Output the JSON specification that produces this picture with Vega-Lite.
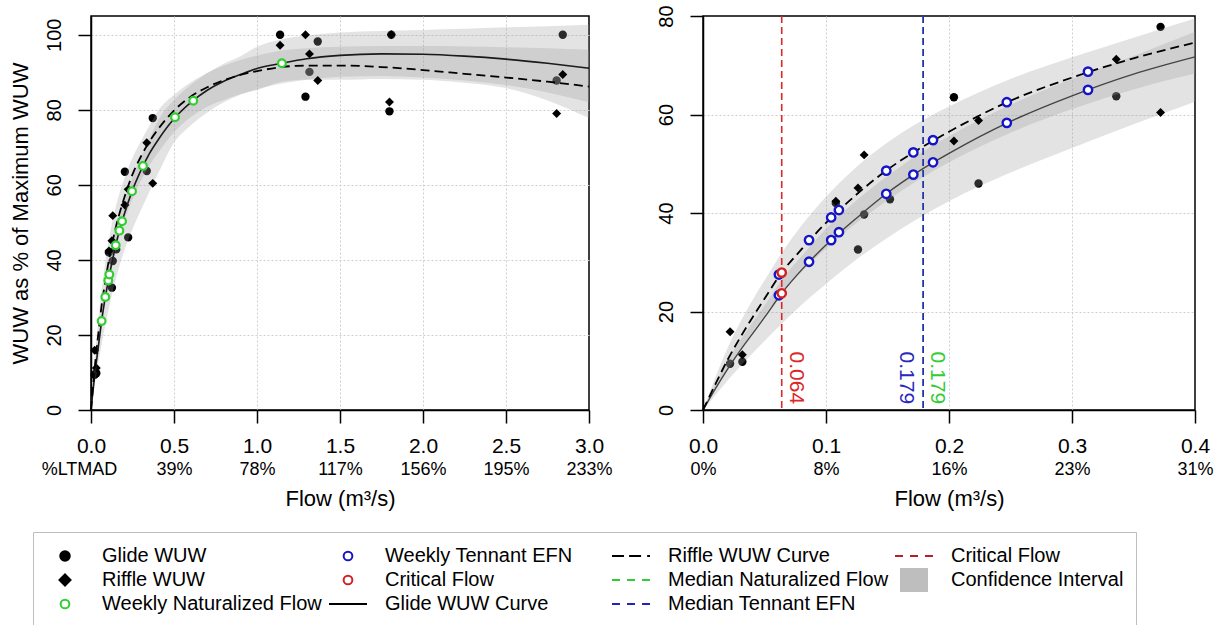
{
  "$schema": "https://vega.github.io/schema/vega-lite/v6.json",
  "background": "white",
  "padding": {"left": 8, "top": 4, "right": 5, "bottom": 0},
  "bounds": "flush",
  "spacing": 114,
  "config": {
    "font": "Liberation Sans",
    "view": {"stroke": "black", "strokeWidth": 1.5},
    "axis": {
      "labelFont": "Liberation Sans", "titleFont": "Liberation Sans",
      "labelColor": "black", "titleColor": "black", "titleFontWeight": "normal",
      "domainColor": "black", "domainWidth": 1.5, "tickColor": "black", "tickWidth": 1.5, "tickSize": 13,
      "gridColor": "#CFCFCF", "gridDash": [2, 2], "gridWidth": 1,
      "labelFlush": false, "labelOverlap": false, "titleFontSize": 22
    },
    "legend": {
      "title": null,
      "orient": "none",
      "columns": 4,
      "gridAlign": "all",
      "symbolSize": 1444,
      "symbolStrokeWidth": 2,
      "symbolFillColor": "transparent",
      "symbolStrokeColor": "black",
      "clipHeight": 24,
      "labelFont": "Liberation Sans",
      "labelFontSize": 20,
      "labelColor": "black",
      "labelOffset": 17,
      "labelLimit": 500,
      "columnPadding": 5,
      "rowPadding": 0,
      "padding": 12,
      "strokeColor": "#BEBEBE"
    }
  },
  "datasets": {
    "curves": [
      {"flow": 0, "glide": 0, "riffle": 0, "glo": 0, "ghi": 0, "rlo": 0, "rhi": 0},
      {"flow": 0.01, "glide": 4.3, "riffle": 5.2, "glo": 3.0, "ghi": 5.3, "rlo": 4.2, "rhi": 6.6},
      {"flow": 0.02, "glide": 8.3, "riffle": 10.2, "glo": 6.0, "ghi": 10.0, "rlo": 8.4, "rhi": 12.6},
      {"flow": 0.03, "glide": 12.0, "riffle": 14.6, "glo": 8.8, "ghi": 14.0, "rlo": 12.2, "rhi": 17.7},
      {"flow": 0.04, "glide": 15.4, "riffle": 18.7, "glo": 11.4, "ghi": 17.7, "rlo": 15.8, "rhi": 22.2},
      {"flow": 0.05, "glide": 18.8, "riffle": 22.6, "glo": 14.0, "ghi": 21.2, "rlo": 19.2, "rhi": 26.3},
      {"flow": 0.064, "glide": 23.7, "riffle": 27.9, "glo": 17.5, "ghi": 26.4, "rlo": 23.8, "rhi": 31.9},
      {"flow": 0.08, "glide": 28.4, "riffle": 32.6, "glo": 21.3, "ghi": 31.2, "rlo": 28.0, "rhi": 37.4},
      {"flow": 0.1, "glide": 33.5, "riffle": 38.0, "glo": 25.6, "ghi": 36.8, "rlo": 32.8, "rhi": 43.3},
      {"flow": 0.125, "glide": 39.0, "riffle": 43.8, "glo": 30.6, "ghi": 42.6, "rlo": 38.0, "rhi": 49.4},
      {"flow": 0.15, "glide": 44.1, "riffle": 48.8, "glo": 35.0, "ghi": 47.5, "rlo": 42.6, "rhi": 54.3},
      {"flow": 0.175, "glide": 48.4, "riffle": 52.9, "glo": 38.9, "ghi": 51.9, "rlo": 46.7, "rhi": 58.3},
      {"flow": 0.2, "glide": 52.1, "riffle": 56.5, "glo": 42.4, "ghi": 55.6, "rlo": 50.3, "rhi": 61.6},
      {"flow": 0.25, "glide": 58.6, "riffle": 62.8, "glo": 48.2, "ghi": 62.0, "rlo": 56.3, "rhi": 67.2},
      {"flow": 0.3, "glide": 63.8, "riffle": 67.5, "glo": 53.2, "ghi": 67.2, "rlo": 61.1, "rhi": 71.6},
      {"flow": 0.35, "glide": 68.2, "riffle": 71.4, "glo": 58.0, "ghi": 71.9, "rlo": 65.1, "rhi": 75.6},
      {"flow": 0.4, "glide": 71.7, "riffle": 74.6, "glo": 62.6, "ghi": 76.8, "rlo": 68.3, "rhi": 79.5},
      {"flow": 0.5, "glide": 77.6, "riffle": 79.8, "glo": 71.2, "ghi": 82.6, "rlo": 74.0, "rhi": 84.0},
      {"flow": 0.6, "glide": 81.9, "riffle": 83.5, "glo": 75.8, "ghi": 86.6, "rlo": 78.0, "rhi": 87.3},
      {"flow": 0.7, "glide": 85.2, "riffle": 86.0, "glo": 79.3, "ghi": 89.8, "rlo": 80.8, "rhi": 89.8},
      {"flow": 0.8, "glide": 87.6, "riffle": 87.9, "glo": 82.0, "ghi": 92.3, "rlo": 82.6, "rhi": 91.8},
      {"flow": 0.9, "glide": 89.4, "riffle": 89.3, "glo": 84.0, "ghi": 94.3, "rlo": 84.2, "rhi": 93.3},
      {"flow": 1.0, "glide": 91.0, "riffle": 90.3, "glo": 85.5, "ghi": 96.8, "rlo": 85.3, "rhi": 94.5},
      {"flow": 1.15, "glide": 92.4, "riffle": 91.4, "glo": 87.0, "ghi": 98.8, "rlo": 87.5, "rhi": 95.8},
      {"flow": 1.3, "glide": 93.6, "riffle": 91.8, "glo": 88.0, "ghi": 99.8, "rlo": 88.0, "rhi": 96.4},
      {"flow": 1.5, "glide": 94.5, "riffle": 91.8, "glo": 88.8, "ghi": 100.6, "rlo": 88.0, "rhi": 96.8},
      {"flow": 1.75, "glide": 94.9, "riffle": 91.4, "glo": 89.0, "ghi": 101.0, "rlo": 88.2, "rhi": 97.0},
      {"flow": 2.0, "glide": 94.8, "riffle": 90.6, "glo": 88.6, "ghi": 101.3, "rlo": 88.0, "rhi": 97.0},
      {"flow": 2.25, "glide": 94.3, "riffle": 89.6, "glo": 87.8, "ghi": 101.6, "rlo": 87.2, "rhi": 96.9},
      {"flow": 2.5, "glide": 93.5, "riffle": 88.6, "glo": 86.6, "ghi": 102.0, "rlo": 85.8, "rhi": 96.7},
      {"flow": 2.75, "glide": 92.4, "riffle": 87.5, "glo": 84.6, "ghi": 102.3, "rlo": 82.5, "rhi": 96.4},
      {"flow": 3.0, "glide": 91.1, "riffle": 86.2, "glo": 82.0, "ghi": 102.7, "rlo": 77.8, "rhi": 96.0}
    ],
    "wuw": [
      {"flow": 0.022, "type": "Glide", "wuw": 9.4},
      {"flow": 0.032, "type": "Glide", "wuw": 9.8},
      {"flow": 0.108, "type": "Glide", "wuw": 42.0},
      {"flow": 0.126, "type": "Glide", "wuw": 32.6},
      {"flow": 0.131, "type": "Glide", "wuw": 39.7},
      {"flow": 0.152, "type": "Glide", "wuw": 42.8},
      {"flow": 0.204, "type": "Glide", "wuw": 63.5},
      {"flow": 0.224, "type": "Glide", "wuw": 46.0},
      {"flow": 0.336, "type": "Glide", "wuw": 63.7},
      {"flow": 0.372, "type": "Glide", "wuw": 77.8},
      {"flow": 1.139, "type": "Glide", "wuw": 100},
      {"flow": 1.292, "type": "Glide", "wuw": 83.5},
      {"flow": 1.316, "type": "Glide", "wuw": 90.1},
      {"flow": 1.366, "type": "Glide", "wuw": 98.2},
      {"flow": 1.798, "type": "Glide", "wuw": 79.6},
      {"flow": 1.809, "type": "Glide", "wuw": 100},
      {"flow": 2.805, "type": "Glide", "wuw": 87.8},
      {"flow": 2.842, "type": "Glide", "wuw": 100},
      {"flow": 0.022, "type": "Riffle", "wuw": 15.9},
      {"flow": 0.032, "type": "Riffle", "wuw": 11.2},
      {"flow": 0.108, "type": "Riffle", "wuw": 42.4},
      {"flow": 0.126, "type": "Riffle", "wuw": 45.1},
      {"flow": 0.131, "type": "Riffle", "wuw": 51.8},
      {"flow": 0.204, "type": "Riffle", "wuw": 54.6},
      {"flow": 0.224, "type": "Riffle", "wuw": 58.8},
      {"flow": 0.336, "type": "Riffle", "wuw": 71.2},
      {"flow": 0.372, "type": "Riffle", "wuw": 60.4},
      {"flow": 1.139, "type": "Riffle", "wuw": 97.2},
      {"flow": 1.292, "type": "Riffle", "wuw": 100},
      {"flow": 1.316, "type": "Riffle", "wuw": 94.9},
      {"flow": 1.366, "type": "Riffle", "wuw": 87.8},
      {"flow": 1.798, "type": "Riffle", "wuw": 82.1},
      {"flow": 1.809, "type": "Riffle", "wuw": 100},
      {"flow": 2.805, "type": "Riffle", "wuw": 79.0},
      {"flow": 2.842, "type": "Riffle", "wuw": 89.4}
    ],
    "natflow": [
      {"flow": 0.064, "wuw": 23.7},
      {"flow": 0.0862, "wuw": 30.1},
      {"flow": 0.1042, "wuw": 34.5},
      {"flow": 0.1105, "wuw": 36.1},
      {"flow": 0.149, "wuw": 43.9},
      {"flow": 0.171, "wuw": 47.8},
      {"flow": 0.187, "wuw": 50.3},
      {"flow": 0.247, "wuw": 58.3},
      {"flow": 0.313, "wuw": 65.0},
      {"flow": 0.506, "wuw": 78.0},
      {"flow": 0.616, "wuw": 82.4},
      {"flow": 1.15, "wuw": 92.4}
    ],
    "efn": [
      {"flow": 0.0617, "curve": "Riffle", "wuw": 27.5},
      {"flow": 0.0862, "curve": "Riffle", "wuw": 34.5},
      {"flow": 0.1042, "curve": "Riffle", "wuw": 39.1},
      {"flow": 0.1105, "curve": "Riffle", "wuw": 40.6},
      {"flow": 0.149, "curve": "Riffle", "wuw": 48.6},
      {"flow": 0.171, "curve": "Riffle", "wuw": 52.3},
      {"flow": 0.187, "curve": "Riffle", "wuw": 54.8},
      {"flow": 0.247, "curve": "Riffle", "wuw": 62.5},
      {"flow": 0.313, "curve": "Riffle", "wuw": 68.7},
      {"flow": 0.0617, "curve": "Glide", "wuw": 23.3},
      {"flow": 0.0862, "curve": "Glide", "wuw": 30.1},
      {"flow": 0.1042, "curve": "Glide", "wuw": 34.5},
      {"flow": 0.1105, "curve": "Glide", "wuw": 36.1},
      {"flow": 0.149, "curve": "Glide", "wuw": 43.9},
      {"flow": 0.171, "curve": "Glide", "wuw": 47.8},
      {"flow": 0.187, "curve": "Glide", "wuw": 50.3},
      {"flow": 0.247, "curve": "Glide", "wuw": 58.3},
      {"flow": 0.313, "curve": "Glide", "wuw": 65.0}
    ],
    "critical": [
      {"flow": 0.064, "curve": "Riffle", "wuw": 27.9},
      {"flow": 0.064, "curve": "Glide", "wuw": 23.7}
    ],
    "vlines": [
      {"name": "Critical Flow", "flow": 0.064},
      {"name": "Median Naturalized Flow", "flow": 0.179},
      {"name": "Median Tennant EFN", "flow": 0.179}
    ],
    "legend": [
      {"item": "Glide WUW"}, {"item": "Riffle WUW"}, {"item": "Weekly Naturalized Flow"},
      {"item": "Weekly Tennant EFN"}, {"item": "Critical Flow"}, {"item": "Glide WUW Curve"},
      {"item": "Riffle WUW Curve"}, {"item": "Median Naturalized Flow"}, {"item": "Median Tennant EFN"},
      {"item": "Critical Flow (line)"}, {"item": "Confidence Interval"}
    ]
  },
  "hconcat": [
    {
      "width": 498,
      "height": 394,
      "resolve": {"axis": {"x": "independent"}},
      "layer": [
        {
          "data": {"name": "wuw"},
          "transform": [{"filter": "datum.type === 'Glide'"}],
          "mark": {"type": "point", "shape": "circle", "filled": true, "color": "black", "size": 70, "opacity": 1},
          "encoding": {
            "x": {"field": "flow", "type": "quantitative", "scale": {"domain": [0, 3], "nice": false, "zero": false},
              "axis": {"orient": "bottom", "values": [0, 0.5, 1, 1.5, 2, 2.5, 3], "format": ".1f", "labelFontSize": 21, "labelPadding": 12, "grid": true, "title": null,
                "gridOpacity": {"condition": {"test": "datum.value === 0 || datum.value === 3", "value": 0}, "value": 1}}},
            "y": {"field": "wuw", "type": "quantitative", "scale": {"domain": [0, 105], "nice": false, "zero": false},
              "axis": {"values": [0, 20, 40, 60, 80, 100], "labelAngle": -90, "labelAlign": "center", "labelBaseline": "alphabetic", "labelFontSize": 20, "labelPadding": 18, "grid": true, "title": "WUW as % of Maximum WUW", "titlePadding": 12,
                "gridOpacity": {"condition": {"test": "datum.value === 0", "value": 0}, "value": 1}}}
          }
        },
        {
          "data": {"name": "curves"},
          "mark": {"type": "area", "color": "#9A9A9A", "opacity": 0.28, "interpolate": "monotone"},
          "encoding": {
            "x": {"field": "flow", "type": "quantitative", "axis": null},
            "y": {"field": "glo", "type": "quantitative"},
            "y2": {"field": "ghi"}
          }
        },
        {
          "data": {"name": "curves"},
          "mark": {"type": "area", "color": "#9A9A9A", "opacity": 0.28, "interpolate": "monotone"},
          "encoding": {
            "x": {"field": "flow", "type": "quantitative", "axis": null},
            "y": {"field": "rlo", "type": "quantitative"},
            "y2": {"field": "rhi"}
          }
        },
        {
          "data": {"name": "wuw"},
          "transform": [{"filter": "datum.type === 'Riffle'"}],
          "mark": {"type": "point", "shape": "diamond", "filled": true, "color": "black", "size": 80, "opacity": 1},
          "encoding": {
            "x": {"field": "flow", "type": "quantitative", "axis": null},
            "y": {"field": "wuw", "type": "quantitative"}
          }
        },
        {
          "data": {"name": "curves"},
          "mark": {"type": "line", "color": "#1a1a1a", "strokeWidth": 1.6, "interpolate": "monotone"},
          "encoding": {
            "x": {"field": "flow", "type": "quantitative", "axis": null},
            "y": {"field": "glide", "type": "quantitative"}
          }
        },
        {
          "data": {"name": "curves"},
          "mark": {"type": "line", "color": "black", "strokeWidth": 1.8, "strokeDash": [9, 5], "interpolate": "monotone"},
          "encoding": {
            "x": {"field": "flow", "type": "quantitative",
              "axis": {"orient": "bottom", "values": [0, 0.5, 1, 1.5, 2, 2.5, 3], "labelExpr": "datum.value === 0 ? '%LTMAD' : datum.value === 0.5 ? '39%' : datum.value === 1 ? '78%' : datum.value === 1.5 ? '117%' : datum.value === 2 ? '156%' : datum.value === 2.5 ? '195%' : '233%'",
                "labelOffset": {"condition": {"test": "datum.value === 0", "value": -12}, "value": 0},
                "labelFontSize": 18, "ticks": false, "domain": false, "grid": false, "labelPadding": 50, "title": "Flow (m³/s)", "titlePadding": 10}},
            "y": {"field": "riffle", "type": "quantitative"}
          }
        },
        {
          "data": {"name": "natflow"},
          "mark": {"type": "point", "shape": "circle", "filled": true, "fill": "white", "stroke": "#32CD32", "strokeWidth": 2.2, "size": 60, "opacity": 1},
          "encoding": {
            "x": {"field": "flow", "type": "quantitative", "axis": null},
            "y": {"field": "wuw", "type": "quantitative"}
          }
        },
        {
          "data": {"name": "legend"},
          "transform": [{"filter": "false"}],
          "mark": {"type": "point", "opacity": 1},
          "encoding": {
            "fill": {"field": "item", "type": "nominal",
              "scale": {
                "domain": ["Glide WUW", "Riffle WUW", "Weekly Naturalized Flow", "Weekly Tennant EFN", "Critical Flow", "Glide WUW Curve", "Riffle WUW Curve", "Median Naturalized Flow", "Median Tennant EFN", "Critical Flow (line)", "Confidence Interval"],
                "range": ["black", "black", "white", "white", "white", "transparent", "transparent", "transparent", "transparent", "transparent", "#BEBEBE"]
              },
              "legend": {"legendX": -58, "legendY": 516, "labelExpr": "datum.label === 'Critical Flow (line)' ? 'Critical Flow' : datum.label"}
            },
            "stroke": {"field": "item", "type": "nominal",
              "scale": {
                "domain": ["Glide WUW", "Riffle WUW", "Weekly Naturalized Flow", "Weekly Tennant EFN", "Critical Flow", "Glide WUW Curve", "Riffle WUW Curve", "Median Naturalized Flow", "Median Tennant EFN", "Critical Flow (line)", "Confidence Interval"],
                "range": ["black", "black", "#32CD32", "#1414C8", "#D42020", "black", "black", "#32CD32", "#2323B4", "#B22222", "transparent"]
              },
              "legend": {"legendX": -58, "legendY": 516, "labelExpr": "datum.label === 'Critical Flow (line)' ? 'Critical Flow' : datum.label"}
            },
            "shape": {"field": "item", "type": "nominal",
              "scale": {
                "domain": ["Glide WUW", "Riffle WUW", "Weekly Naturalized Flow", "Weekly Tennant EFN", "Critical Flow", "Glide WUW Curve", "Riffle WUW Curve", "Median Naturalized Flow", "Median Tennant EFN", "Critical Flow (line)", "Confidence Interval"],
                "range": [
                  "M0.25,0A0.25,0.25,0,1,1,-0.25,0A0.25,0.25,0,1,1,0.25,0Z",
                  "M-0.29,0L0,-0.29L0.29,0L0,0.29Z",
                  "M0.23,0A0.23,0.23,0,1,1,-0.23,0A0.23,0.23,0,1,1,0.23,0Z",
                  "M0.23,0A0.23,0.23,0,1,1,-0.23,0A0.23,0.23,0,1,1,0.23,0Z",
                  "M0.23,0A0.23,0.23,0,1,1,-0.23,0A0.23,0.23,0,1,1,0.23,0Z",
                  "M-1,0H1",
                  "M-1,0H-0.37M-0.1,0H0.53M0.85,0H1",
                  "M-1,0H-0.58M-0.21,0H0.21M0.58,0H1",
                  "M-1,0H-0.58M-0.21,0H0.21M0.58,0H1",
                  "M-1,0H-0.58M-0.21,0H0.21M0.58,0H1",
                  "M-0.737,-0.632H0.737V0.632H-0.737Z"
                ]
              },
              "legend": {"legendX": -58, "legendY": 516, "labelExpr": "datum.label === 'Critical Flow (line)' ? 'Critical Flow' : datum.label"}
            }
          }
        }
      ]
    },
    {
      "width": 492,
      "height": 394,
      "resolve": {"axis": {"x": "independent"}},
      "layer": [
        {
          "data": {"name": "wuw"},
          "transform": [{"filter": "datum.type === 'Glide' && datum.flow <= 0.4"}],
          "mark": {"type": "point", "shape": "circle", "filled": true, "color": "black", "size": 70, "opacity": 1},
          "encoding": {
            "x": {"field": "flow", "type": "quantitative", "scale": {"domain": [0, 0.4], "nice": false, "zero": false},
              "axis": {"orient": "bottom", "values": [0, 0.1, 0.2, 0.3, 0.4], "format": ".1f", "labelFontSize": 21, "labelPadding": 12, "grid": true, "title": null,
                "gridOpacity": {"condition": {"test": "datum.value === 0 || datum.value === 0.4", "value": 0}, "value": 1}}},
            "y": {"field": "wuw", "type": "quantitative", "scale": {"domain": [0, 80], "nice": false, "zero": false},
              "axis": {"values": [0, 20, 40, 60, 80], "labelAngle": -90, "labelAlign": "center", "labelBaseline": "alphabetic", "labelFontSize": 20, "labelPadding": 18, "grid": true, "title": null,
                "gridOpacity": {"condition": {"test": "datum.value === 0 || datum.value === 80", "value": 0}, "value": 1}}}
          }
        },
        {
          "data": {"name": "curves"},
          "transform": [{"filter": "datum.flow <= 0.4"}],
          "mark": {"type": "area", "color": "#9A9A9A", "opacity": 0.28, "interpolate": "monotone"},
          "encoding": {
            "x": {"field": "flow", "type": "quantitative", "axis": null},
            "y": {"field": "glo", "type": "quantitative"},
            "y2": {"field": "ghi"}
          }
        },
        {
          "data": {"name": "curves"},
          "transform": [{"filter": "datum.flow <= 0.4"}],
          "mark": {"type": "area", "color": "#9A9A9A", "opacity": 0.28, "interpolate": "monotone"},
          "encoding": {
            "x": {"field": "flow", "type": "quantitative", "axis": null},
            "y": {"field": "rlo", "type": "quantitative"},
            "y2": {"field": "rhi"}
          }
        },
        {
          "data": {"name": "wuw"},
          "transform": [{"filter": "datum.type === 'Riffle' && datum.flow <= 0.4"}],
          "mark": {"type": "point", "shape": "diamond", "filled": true, "color": "black", "size": 80, "opacity": 1},
          "encoding": {
            "x": {"field": "flow", "type": "quantitative", "axis": null},
            "y": {"field": "wuw", "type": "quantitative"}
          }
        },
        {
          "data": {"name": "vlines"},
          "mark": {"type": "rule", "strokeDash": [7, 4], "strokeWidth": 1.6},
          "encoding": {
            "x": {"field": "flow", "type": "quantitative", "axis": null},
            "color": {"field": "name", "type": "nominal", "legend": null,
              "scale": {"domain": ["Critical Flow", "Median Naturalized Flow", "Median Tennant EFN"], "range": ["#DC2828", "#32CD32", "#2828C0"]}}
          }
        },
        {
          "data": {"name": "curves"},
          "transform": [{"filter": "datum.flow <= 0.4"}],
          "mark": {"type": "line", "color": "#444444", "strokeWidth": 1.4, "interpolate": "monotone"},
          "encoding": {
            "x": {"field": "flow", "type": "quantitative", "axis": null},
            "y": {"field": "glide", "type": "quantitative"}
          }
        },
        {
          "data": {"name": "curves"},
          "transform": [{"filter": "datum.flow <= 0.4"}],
          "mark": {"type": "line", "color": "black", "strokeWidth": 1.8, "strokeDash": [9, 5], "interpolate": "monotone"},
          "encoding": {
            "x": {"field": "flow", "type": "quantitative",
              "axis": {"orient": "bottom", "values": [0, 0.1, 0.2, 0.3, 0.4], "labelExpr": "datum.value === 0 ? '0%' : datum.value === 0.1 ? '8%' : datum.value === 0.2 ? '16%' : datum.value === 0.3 ? '23%' : '31%'", "labelFontSize": 18, "ticks": false, "domain": false, "grid": false, "labelPadding": 50, "title": "Flow (m³/s)", "titlePadding": 10}},
            "y": {"field": "riffle", "type": "quantitative"}
          }
        },
        {
          "data": {"name": "efn"},
          "mark": {"type": "point", "shape": "circle", "filled": true, "fill": "white", "stroke": "#1414C8", "strokeWidth": 2.4, "size": 70, "opacity": 1},
          "encoding": {
            "x": {"field": "flow", "type": "quantitative", "axis": null},
            "y": {"field": "wuw", "type": "quantitative"}
          }
        },
        {
          "data": {"name": "critical"},
          "mark": {"type": "point", "shape": "circle", "filled": true, "fill": "white", "stroke": "#D42020", "strokeWidth": 2.4, "size": 70, "opacity": 1},
          "encoding": {
            "x": {"field": "flow", "type": "quantitative", "axis": null},
            "y": {"field": "wuw", "type": "quantitative"}
          }
        },
        {
          "data": {"name": "vlines"},
          "transform": [{"filter": "datum.name !== 'Median Tennant EFN'"}],
          "mark": {"type": "text", "angle": 90, "align": "right", "baseline": "alphabetic", "dy": -8, "fontSize": 21},
          "encoding": {
            "x": {"field": "flow", "type": "quantitative", "axis": null},
            "y": {"datum": 1.2},
            "text": {"field": "flow", "type": "quantitative", "format": ".3f"},
            "color": {"field": "name", "type": "nominal", "legend": null}
          }
        },
        {
          "data": {"name": "vlines"},
          "transform": [{"filter": "datum.name === 'Median Tennant EFN'"}],
          "mark": {"type": "text", "angle": 90, "align": "right", "baseline": "alphabetic", "dy": 23, "fontSize": 21},
          "encoding": {
            "x": {"field": "flow", "type": "quantitative", "axis": null},
            "y": {"datum": 1.2},
            "text": {"field": "flow", "type": "quantitative", "format": ".3f"},
            "color": {"field": "name", "type": "nominal", "legend": null}
          }
        }
      ]
    }
  ]
}
